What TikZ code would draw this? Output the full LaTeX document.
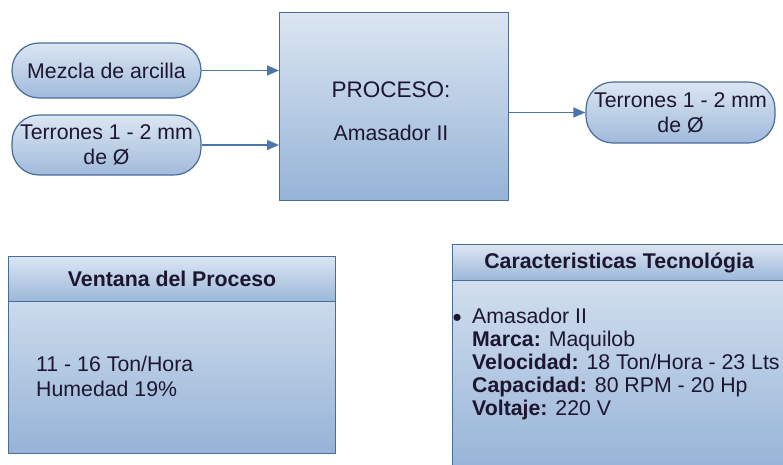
\documentclass[tikz,border=0pt]{standalone}
\usepackage{fontspec}
\setmainfont{Liberation Sans}
\usetikzlibrary{shadings,arrows.meta}
\definecolor{bord}{HTML}{4A6C9B}
\definecolor{arrc}{HTML}{4A76AD}
\definecolor{ltop}{HTML}{DCE6F2}
\definecolor{lbot}{HTML}{95B3D7}
\definecolor{txtc}{HTML}{1E1630}
\tikzset{
  base/.style={font=\fontsize{21.3}{25}\selectfont, text=txtc},
  pill/.style={base, draw=bord, line width=1.2pt, rounded corners=27pt, top color=ltop, bottom color=lbot!90, align=center, inner sep=0pt},
  procbox/.style={base, draw=bord, line width=1.2pt, top color=ltop, bottom color=lbot, inner sep=0pt},
  tbl/.style={draw=bord, line width=1.2pt, top color=ltop, bottom color=lbot, inner sep=0pt, anchor=north west},
  hdr/.style={base, font=\fontsize{21.3}{25}\selectfont\bfseries, draw=bord, line width=1.2pt, top color=ltop, bottom color=lbot!95, inner sep=0pt, anchor=north west},
  line/.style={base, anchor=base west, inner sep=0pt},
  arr/.style={draw=arrc, line width=1.3pt, -{Triangle[length=12pt,width=10pt]}},
}
\begin{document}
\begin{tikzpicture}[x=1pt,y=-1pt]
\useasboundingbox (0,0) rectangle (783,464);
% process
\node[procbox, minimum width=229pt, minimum height=188pt, anchor=north west] (proc) at (279,12) {};
\node[base, anchor=base, font=\fontsize{22.5}{26}\selectfont] (ptitle) at (391,97) {PROCESO:};
\node[base, anchor=base] (pname) at (391,140) {Amasador II};
% inputs
\node[pill, minimum width=189pt, minimum height=55pt] (mez) at (106.5,70.5) {Mezcla de arcilla};
\node[pill, minimum width=189pt, minimum height=60pt] (terl) at (106.5,145) {Terrones 1 - 2 mm\\de Ø};
\node[pill, minimum width=189pt, minimum height=61pt] (terr) at (680.5,112.5) {Terrones 1 - 2 mm\\de Ø};
\draw[arr] (mez.east) -- (proc.west |- mez.east);
\draw[arr] (terl.east) -- (proc.west |- terl.east);
\draw[arr] (proc.east |- terr.west) -- (terr.west);
% ventana
\node[tbl, minimum width=327pt, minimum height=197pt] (vent) at (8,256) {};
\node[hdr, minimum width=327pt, minimum height=45pt] (venth) at (8,256) {Ventana del Proceso};
\node[line, align=left, font=\fontsize{21.3}{25}\selectfont] (vtxt) at (36,396) {11 - 16 Ton/Hora\\Humedad 19\%};
% caracteristicas
\node[tbl, minimum width=333pt, minimum height=230pt] (car) at (452,244) {};
\node[hdr, minimum width=333pt, minimum height=36pt] (carh) at (452,244) {Caracteristicas Tecnológia};
\node[line] (bul) at (452.5,326) {\fontsize{26}{26}\selectfont •};
\node[line, align=left, font=\fontsize{21.3}{23}\selectfont] (ctxt) at (472,415) {Amasador II\\\textbf{Marca:} Maquilob\\\textbf{Velocidad:} 18 Ton/Hora - 23 Lts\\\textbf{Capacidad:} 80 RPM - 20 Hp\\\textbf{Voltaje:} 220 V};
\end{tikzpicture}
\end{document}
